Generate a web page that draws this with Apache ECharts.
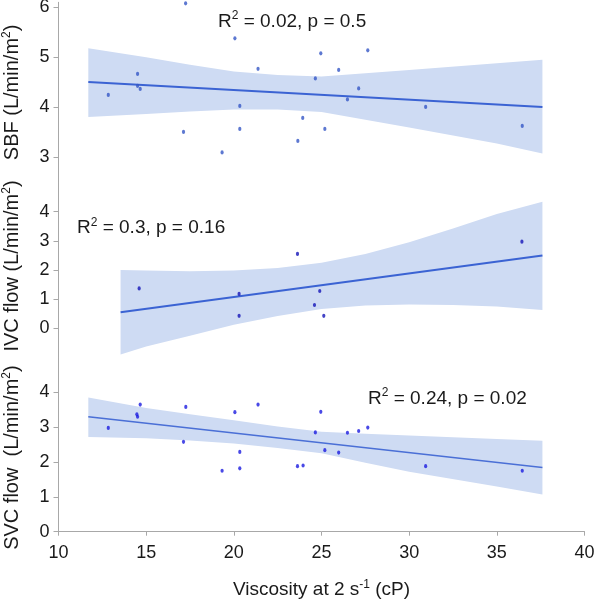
<!DOCTYPE html>
<html>
<head>
<meta charset="utf-8">
<script src="https://cdn.jsdelivr.net/npm/echarts@6/dist/echarts.min.js"></script>
<style>html,body{margin:0;padding:0;background:#fff}#c{width:595px;height:600px}</style>
</head>
<body>
<div id="c"></div>
<script>
// ---- data ----
const xTicks = [10, 15, 20, 25, 30, 35, 40];

const sbfX = [12.84,14.51,14.51,14.66,17.13,17.25,19.33,20.06,20.34,20.34,21.38,23.65,23.93,24.65,24.96,25.19,25.98,26.48,27.12,27.64,30.94,36.45];
const sbfY = [4.25,4.67,4.43,4.37,3.51,6.08,3.10,5.38,4.03,3.57,4.77,3.33,3.79,4.58,5.08,3.57,4.75,4.16,4.38,5.14,4.01,3.63];
const sbfLineX = [11.7, 37.6];
const sbfLineY = [4.51, 4.01];
const sbfBandX  = [11.7,15,17.5,20,22.5,25,30,35,37.6];
const sbfBandHi = [5.18,5.00,4.85,4.72,4.65,4.62,4.75,4.88,4.95];
const sbfBandLo = [3.81,3.87,3.92,3.96,3.96,3.91,3.60,3.28,3.08];
const sbfTicks = [3,4,5,6];

const ivcX = [14.6,20.3,20.3,23.63,24.6,24.9,25.13,36.43];
const ivcY = [1.37,1.18,0.43,2.55,0.80,1.28,0.43,2.97];
const ivcLineX = [13.54, 37.6];
const ivcLineY = [0.55, 2.50];
const ivcBandX  = [13.54,15,17.5,20,22.5,25,27.5,30,32.5,35,37.6];
const ivcBandHi = [2.00,1.98,1.96,1.98,2.07,2.25,2.55,2.95,3.42,3.92,4.34];
const ivcBandLo = [-0.90,-0.62,-0.25,0.12,0.42,0.66,0.78,0.82,0.80,0.75,0.63];
const ivcTicks = [0,1,2,3,4];

const svcX = [12.84,14.47,14.51,14.66,17.13,17.26,19.33,20.06,20.34,20.34,21.38,23.63,23.95,24.65,24.96,25.19,25.98,26.48,27.12,27.64,30.94,36.45];
const svcY = [2.98,3.37,3.30,3.65,2.58,3.58,1.75,3.43,2.29,1.82,3.65,1.88,1.90,2.85,3.44,2.34,2.27,2.84,2.89,2.99,1.88,1.75];
const svcLineX = [11.7, 37.6];
const svcLineY = [3.30, 1.84];
const svcBandX  = [11.7,15,17.5,20,22.5,25,27.5,30,35,37.6];
const svcBandHi = [3.85,3.55,3.37,3.20,3.02,2.87,2.81,2.76,2.66,2.61];
const svcBandLo = [2.72,2.68,2.62,2.53,2.40,2.25,1.98,1.72,1.30,1.07];
const svcTicks = [0,1,2,3,4];

// ---- styling ----
const FONT = 'Liberation Sans, Arial, sans-serif';
const AXIS_COLOR = '#a8a8a8';
const TEXT_COLOR = '#1a1a1a';
const BAND_COLOR = 'rgb(206,219,243)';

const zip = (xs, ys) => xs.map((x, i) => [x, ys[i]]);

const supRich = (fs) => ({
  a: { fontSize: fs, fontFamily: FONT, fontWeight: 'normal', color: TEXT_COLOR, lineHeight: fs + 4 },
  s: { fontSize: Math.round(fs * 0.62), fontFamily: FONT, fontWeight: 'normal', color: TEXT_COLOR, verticalAlign: 'top', lineHeight: Math.round(fs * 0.75) }
});

function bandSeries(idx, bx, hi, lo) {
  return {
    type: 'custom', xAxisIndex: idx, yAxisIndex: idx, silent: true, z: 1,
    data: [0],
    renderItem: function (params, api) {
      const up = bx.map((x, k) => api.coord([x, hi[k]]));
      const dn = bx.map((x, k) => api.coord([x, lo[k]])).reverse();
      return { type: 'polygon', shape: { points: up.concat(dn) }, style: { fill: BAND_COLOR } };
    }
  };
}
function lineSeries(idx, lx, ly, color, w) {
  return {
    type: 'line', xAxisIndex: idx, yAxisIndex: idx, data: zip(lx, ly),
    symbol: 'none', silent: true, z: 3,
    lineStyle: { color: color, width: w }
  };
}
function scatterSeries(idx, xs, ys, color) {
  return {
    type: 'scatter', xAxisIndex: idx, yAxisIndex: idx, data: zip(xs, ys),
    symbol: 'circle', symbolSize: [3.2, 4.2], silent: true, z: 4, clip: false,
    itemStyle: { color: color }
  };
}
function xAxis(idx, show) {
  return {
    type: 'value', gridIndex: idx, min: xTicks[0], max: xTicks[xTicks.length - 1], interval: 5,
    show: show,
    axisLine: { show: true, lineStyle: { color: AXIS_COLOR, width: 1 } },
    axisTick: { show: true, length: 4, lineStyle: { color: AXIS_COLOR } },
    axisLabel: { show: true, fontSize: 18, fontFamily: FONT, color: TEXT_COLOR, margin: 12 },
    splitLine: { show: false },
    name: show ? '{a|Viscosity at 2 s}{s|-1}{a| (cP)}' : '',
    nameLocation: 'middle', nameGap: 47,
    nameTextStyle: { rich: supRich(19) }
  };
}
function yAxis(idx, min, max, ticks, name, pad) {
  return {
    type: 'value', gridIndex: idx, min: min, max: max,
    axisLine: { show: true, lineStyle: { color: AXIS_COLOR, width: 1 } },
    axisTick: { show: true, length: 5, customValues: ticks, lineStyle: { color: AXIS_COLOR } },
    axisLabel: { show: true, customValues: ticks, fontSize: 18, fontFamily: FONT, color: TEXT_COLOR, margin: 9 },
    splitLine: { show: false },
    name: name, nameLocation: 'middle', nameGap: 34, nameRotate: 90,
    nameTextStyle: { rich: supRich(20), padding: pad }
  };
}
function annot(text, left, top) {
  return {
    text: text, left: left, top: top, padding: 0,
    textStyle: { fontWeight: 'normal', rich: supRich(19) }
  };
}

const chart = echarts.init(document.getElementById('c'), null, { renderer: 'canvas' });
chart.setOption({
  animation: false,
  backgroundColor: '#ffffff',
  title: [
    annot('{a|R}{s|2}{a| = 0.02, p = 0.5}', 218, 10),
    annot('{a|R}{s|2}{a| = 0.3, p = 0.16}', 77, 216.5),
    annot('{a|R}{s|2}{a| = 0.24, p = 0.02}', 368, 387)
  ],
  grid: [
    { left: 58.5, right: 10.5, top: 2.3, height: 180.2, outerBoundsMode: 'none' },
    { left: 58.5, right: 10.5, top: 182.5, height: 175, outerBoundsMode: 'none' },
    { left: 58.5, right: 10.5, top: 357.5, height: 174.2, outerBoundsMode: 'none' }
  ],
  xAxis: [xAxis(0, false), xAxis(1, false), xAxis(2, true)],
  yAxis: [
    yAxis(0, 2.5, 6.1, sbfTicks, '{a|SBF (L/min/m}{s|2}{a|)}', [0, 0, 0, 0]),
    yAxis(1, -1, 5, ivcTicks, '{a|IVC flow (L/min/m}{s|2}{a|)}', [0, 0, 0, 8]),
    yAxis(2, 0, 5, svcTicks, '{a|SVC flow  (L/min/m}{s|2}{a|)}', [0, 26, 0, 0])
  ],
  series: [
    bandSeries(0, sbfBandX, sbfBandHi, sbfBandLo),
    lineSeries(0, sbfLineX, sbfLineY, '#3b63d3', 2),
    scatterSeries(0, sbfX, sbfY, '#3556c6'),
    bandSeries(1, ivcBandX, ivcBandHi, ivcBandLo),
    lineSeries(1, ivcLineX, ivcLineY, '#3b63d3', 2),
    scatterSeries(1, ivcX, ivcY, '#1414b8'),
    bandSeries(2, svcBandX, svcBandHi, svcBandLo),
    lineSeries(2, svcLineX, svcLineY, '#4a6fd6', 1.5),
    scatterSeries(2, svcX, svcY, '#1c1ce0')
  ]
});
</script>
</body>
</html>
